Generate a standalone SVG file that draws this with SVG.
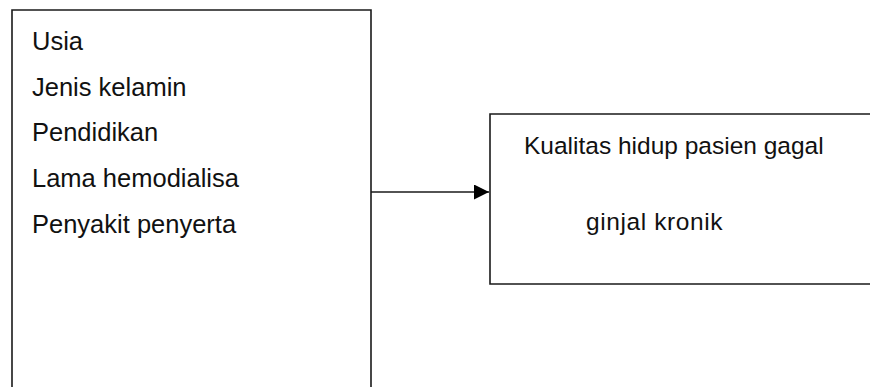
<svg xmlns="http://www.w3.org/2000/svg" width="870" height="387" viewBox="0 0 870 387">
  <style>
    .frame { fill: none; stroke: #1a1a1a; stroke-width: 1.6; }
    .label { font-family: "Liberation Sans", Arial, sans-serif; font-size: 25.5px; fill: #111; }
    .title { font-family: "Liberation Sans", Arial, sans-serif; font-size: 24.5px; fill: #111; }
    .link { stroke: #1a1a1a; stroke-width: 1.4; fill: none; }
  </style>
  <defs>
    <marker id="arrowhead" markerWidth="15" markerHeight="15" refX="15" refY="7.5" orient="auto" markerUnits="userSpaceOnUse">
      <path d="M0,0 L15,7.5 L0,15 Z" fill="#000"/>
    </marker>
  </defs>
  <rect width="870" height="387" fill="#fff"/>

  <!-- Factors box (open at the bottom) -->
  <g id="factors">
    <path class="frame" d="M12,387 V10 H371 V387"/>
    <text class="label" x="32" y="50">Usia</text>
    <text class="label" x="32" y="96">Jenis kelamin</text>
    <text class="label" x="32" y="141">Pendidikan</text>
    <text class="label" x="32" y="187">Lama hemodialisa</text>
    <text class="label" x="32" y="233">Penyakit penyerta</text>
  </g>

  <!-- Outcome box (open on the right) -->
  <g id="outcome">
    <path class="frame" d="M870,114 H490 V284 H870"/>
    <text class="title" x="524" y="154">Kualitas hidup pasien gagal</text>
    <text class="title" x="586" y="230" font-size="26px" letter-spacing="0.6">ginjal kronik</text>
  </g>

  <g id="connectors">
    <line class="link" x1="371" y1="192" x2="489" y2="192" marker-end="url(#arrowhead)"/>
  </g>
</svg>
